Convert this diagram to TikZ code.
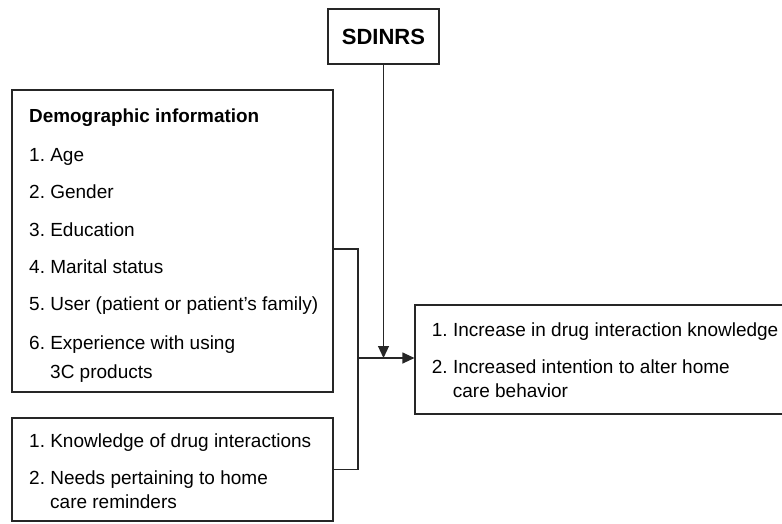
\documentclass[tikz,border=0pt]{standalone}
\usepackage{fontspec}
\setmainfont{Liberation Sans}
\usetikzlibrary{arrows.meta}
\frenchspacing
\begin{document}
\begin{tikzpicture}[x=1pt,y=-1pt,
  boxline/.style={draw=black!85, line width=1.1pt},
  txt/.style={anchor=base west, inner sep=0pt, font=\frenchspacing\fontsize{19}{22}\selectfont},
  btxt/.style={txt, font=\frenchspacing\fontsize{18.9}{22}\selectfont\bfseries},
  conn/.style={draw=black!85, line width=1.1pt},
  arr/.style={conn, -{Triangle[length=12pt,width=11pt]}}]
\useasboundingbox (0,0) rectangle (782,523);
% boxes
\node[boxline, minimum width=111pt, minimum height=55pt, inner sep=0pt,
  font=\fontsize{22}{26}\selectfont\bfseries] (sdinrs) at (383.5,36.5) {SDINRS};
\node[boxline, minimum width=321pt, minimum height=302pt] (demo) at (172.5,241) {};
\node[boxline, minimum width=321pt, minimum height=103pt] (know) at (172.5,469.5) {};
\node[boxline, minimum width=370pt, minimum height=109pt] (out) at (600,359.5) {};
% demographic text
\node[btxt] (d0) at (29,122.7) {Demographic information};
\node[txt] (d1) at (29,161) {1. Age};
\node[txt] (d2) at (29,198.3) {2. Gender};
\node[txt] (d3) at (29,236) {3. Education};
\node[txt] (d4) at (29,273) {4. Marital status};
\node[txt] (d5) at (29,310.5) {5. User (patient or patient’s family)};
\node[txt] (d6) at (29,349) {6. Experience with using};
\node[txt] (d6b) at (50,378) {3C products};
% knowledge text
\node[txt] (k1) at (29,447.7) {1. Knowledge of drug interactions};
\node[txt] (k2) at (29,484.5) {2. Needs pertaining to home};
\node[txt] (k2b) at (50,508.5) {care reminders};
% outcome text
\node[txt] (o1) at (431.7,336) {1. Increase in drug interaction knowledge};
\node[txt] (o2) at (431.7,373.3) {2. Increased intention to alter home};
\node[txt] (o2b) at (452.7,397) {care behavior};
% connectors
\coordinate (j) at (358,358);
\draw[conn] ([yshift=-8pt]demo.east) -| (j);
\draw[conn] (know.east) -| (j);
\draw[arr] (j) -- (j -| out.west);
\draw[arr] (sdinrs.south) -- (sdinrs.south |- j);
\end{tikzpicture}
\end{document}
